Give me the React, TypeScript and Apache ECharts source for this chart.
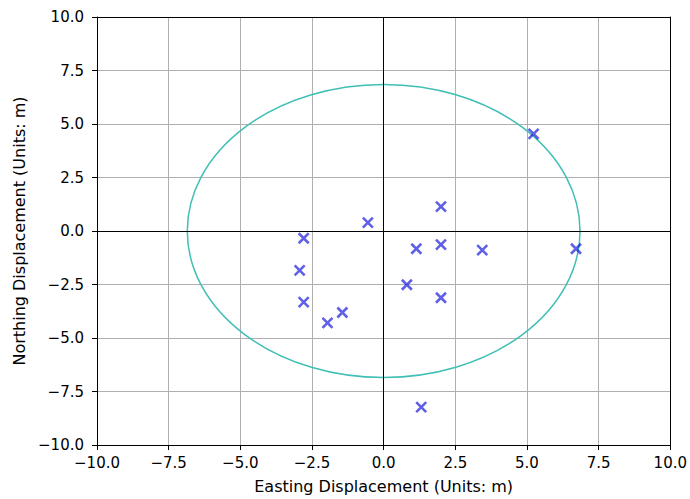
import React, { useEffect, useRef } from "react";
import * as echarts from "echarts";

const eastings = [5.23, 6.71, 2.0, -0.55, -2.79, 1.14, 2.0, 3.44, -2.93, 0.81, -2.79, 2.0, -1.44, -1.96, 1.31];
const northings = [4.54, -0.83, 1.14, 0.39, -0.34, -0.83, -0.64, -0.89, -1.84, -2.51, -3.32, -3.12, -3.81, -4.29, -8.23];
const circleRadius = 6.85;
const axisMin = -10;
const axisMax = 10;
const tickStep = 2.5;

const fmt = (v: number) => v.toFixed(1).replace("-", "\u2212");
const FONT = "DejaVu Sans";

export default function App() {
  const ref = useRef<HTMLDivElement>(null);
  useEffect(() => {
    if (!ref.current) return;
    const chart = echarts.init(ref.current, null, { renderer: "svg" });
    const points = eastings.map((e, i) => [e, northings[i]]);
    const baseAxis = {
      type: "value",
      min: axisMin,
      max: axisMax,
      interval: tickStep,
      axisLine: { show: true, onZero: false, lineStyle: { color: "#000", width: 1 } },
      axisTick: { show: true, inside: false, length: 5, lineStyle: { color: "#000" } },
      splitLine: { show: true, lineStyle: { color: "#b0b0b0", width: 1 } },
      axisLabel: { formatter: fmt, color: "#000", fontFamily: FONT, fontSize: 15 },
    };
    const frameAxis = {
      type: "value",
      min: axisMin,
      max: axisMax,
      interval: tickStep,
      axisLine: { show: true, onZero: false, lineStyle: { color: "#000", width: 1 } },
      axisTick: { show: false },
      splitLine: { show: false },
      axisLabel: { show: false },
    };
    chart.setOption({
      animation: false,
      backgroundColor: "#fff",
      grid: { left: 97, right: 19, top: 17, bottom: 54, containLabel: false },
      xAxis: [
        {
          ...baseAxis,
          position: "bottom",
          name: "Easting Displacement (Units: m)",
          nameLocation: "middle",
          nameGap: 33,
          nameTextStyle: { color: "#000", fontFamily: FONT, fontSize: 16 },
          axisLabel: { ...baseAxis.axisLabel, margin: 10 },
        },
        { ...frameAxis, position: "top" },
      ],
      yAxis: [
        {
          ...baseAxis,
          position: "left",
          name: "Northing Displacement (Units: m)",
          nameLocation: "middle",
          nameGap: 64,
          nameTextStyle: { color: "#000", fontFamily: FONT, fontSize: 16 },
          axisLabel: { ...baseAxis.axisLabel, margin: 13 },
        },
        { ...frameAxis, position: "right" },
      ],
      series: [
        {
          type: "custom",
          xAxisIndex: 0,
          yAxisIndex: 0,
          data: [[0, 0, circleRadius]],
          clip: false,
          z: 3,
          renderItem: (params: any, api: any) => {
            const c = api.coord([api.value(0), api.value(1)]);
            const r = api.value(2);
            const s = api.size([r, r]);
            const rx = s[0];
            const ry = s[1];
            const d = `M ${c[0] - rx} ${c[1]} A ${rx} ${ry} 0 1 0 ${c[0] + rx} ${c[1]} A ${rx} ${ry} 0 1 0 ${c[0] - rx} ${c[1]} Z`;
            return {
              type: "path",
              shape: { pathData: d },
              style: { fill: "none", stroke: "#40bfb4", lineWidth: 1.5 },
            };
          },
        },
        {
          type: "scatter",
          xAxisIndex: 0,
          yAxisIndex: 0,
          data: points,
          symbol: "path://M0,0 L10,10 M10,0 L0,10",
          symbolSize: 10,
          z: 5,
          itemStyle: { color: "none", borderColor: "rgba(0,0,215,0.78)", borderWidth: 2.6 },
          markLine: {
            silent: true,
            symbol: "none",
            label: { show: false },
            lineStyle: { color: "#000", width: 1, type: "solid" },
            data: [{ xAxis: 0 }, { yAxis: 0 }],
          },
        },
      ],
    });
    return () => chart.dispose();
  }, []);
  return <div ref={ref} style={{ width: 690, height: 499, position: "absolute", left: 0, top: 0 }} />;
}
